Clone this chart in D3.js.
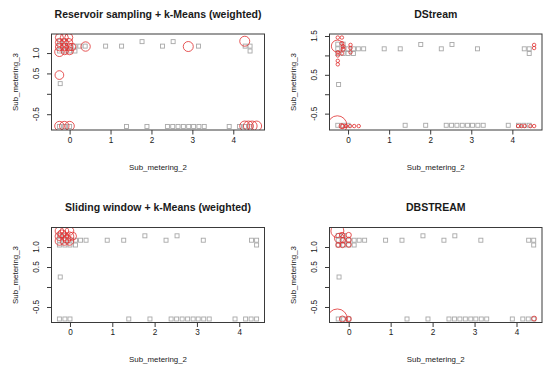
<!DOCTYPE html>
<html>
<head>
<meta charset="utf-8">
<script src="https://cdn.jsdelivr.net/npm/d3@7"></script>
<style>
  html, body { margin: 0; padding: 0; background: #fff; }
  svg { display: block; }
  text { font-family: "Liberation Sans", Arial, sans-serif; }
</style>
</head>
<body>
<div id="chart"></div>
<script>
// ---------------- data ----------------
const titles = ["Reservoir sampling + k-Means (weighted)", "DStream", "Sliding window + k-Means (weighted)", "DBSTREAM"];
const xLabel = "Sub_metering_2";
const yLabel = "Sub_metering_3";

const xTicks = [0, 1, 2, 3, 4];
const xTickLabels = ["0", "1", "2", "3", "4"];
const yTicksA = [-0.5, 0, 0.5, 1.0];
const yTickLabelsA = ["-0.5", "", "0.5", "1.0"];
const yTicksB = [-0.5, 0, 0.5, 1.0, 1.5];
const yTickLabelsB = ["-0.5", "", "0.5", "", "1.5"];

// data points (Sub_metering_2, Sub_metering_3), shown as grey squares in every panel
const pointsX = [-0.25, -0.12, -0.25, -0.12, 0.0, 0.13, 0.25, 0.38, -0.25, -0.12, 0.0, 0.13,
                 0.88, 1.27, 1.77, 2.27, 2.53, 3.15, 4.29, 4.41, 4.41,
                 -0.23,
                 -0.25, -0.12, 0.0, 1.39, 1.89, 2.39, 2.52, 2.65, 2.78, 2.91, 3.03, 3.16, 3.29, 3.90, 4.15, 4.28, 4.41];
const pointsY = [1.29, 1.29, 1.17, 1.17, 1.17, 1.17, 1.17, 1.17, 1.05, 1.05, 1.05, 1.05,
                 1.17, 1.17, 1.28, 1.17, 1.28, 1.17, 1.17, 1.17, 1.05,
                 0.25,
                 -0.80, -0.80, -0.80, -0.80, -0.80, -0.80, -0.80, -0.80, -0.80, -0.80, -0.80, -0.80, -0.80, -0.80, -0.80, -0.80, -0.80];

// cluster centres: [x, y, weight]
const reservoirCenters = [
  [-0.25, 1.38, 16], [-0.13, 1.38, 16], [-0.02, 1.38, 16],
  [-0.25, 1.26, 16], [-0.13, 1.26, 16], [-0.02, 1.26, 16],
  [-0.25, 1.15, 16], [-0.13, 1.15, 16], [-0.02, 1.15, 16], [0.06, 1.15, 14],
  [-0.25, 1.03, 22], [-0.12, 1.05, 14], [0.0, 1.05, 14],
  [-0.25, 0.46, 19],
  [0.39, 1.16, 22],
  [2.90, 1.16, 25],
  [4.28, 1.29, 25],
  [-0.25, -0.79, 22], [-0.13, -0.79, 22], [0.0, -0.79, 22],
  [4.28, -0.79, 25], [4.37, -0.79, 25], [4.46, -0.79, 25], [4.57, -0.79, 25]
];
const dstreamCenters = [
  [-0.25, 1.46, 3], [-0.15, 1.46, 3],
  [-0.26, 1.24, 36],
  [-0.15, 1.31, 4], [-0.12, 1.23, 4], [-0.12, 1.16, 4],
  [0.06, 1.27, 3], [0.06, 1.19, 3], [0.06, 1.08, 3],
  [-0.25, 1.08, 3], [-0.15, 1.05, 3], [-0.25, 1.00, 3],
  [-0.25, 0.86, 3], [-0.25, 0.77, 3],
  [-0.26, -0.80, 90],
  [-0.16, -0.82, 6], [-0.13, -0.83, 5], [-0.05, -0.82, 3], [0.05, -0.82, 3], [0.15, -0.82, 3], [0.26, -0.82, 3],
  [4.53, 1.27, 3], [4.53, 1.19, 3],
  [4.14, -0.82, 3], [4.22, -0.82, 3], [4.30, -0.82, 3], [4.44, -0.82, 3], [4.53, -0.82, 3]
];
const slidingCenters = [
  [-0.25, 1.40, 18], [-0.13, 1.40, 18], [-0.01, 1.40, 18],
  [-0.25, 1.27, 18], [-0.13, 1.27, 18], [-0.01, 1.27, 18], [0.06, 1.27, 16],
  [-0.25, 1.15, 18], [-0.13, 1.15, 18], [-0.01, 1.15, 18],
  [-0.19, 1.33, 16], [-0.07, 1.20, 16]
];
const dbstreamCenters = [
  [-0.27, 1.40, 42], [-0.22, 1.22, 25],
  [-0.16, 1.30, 7], [-0.14, 1.17, 7], [-0.15, 1.05, 7],
  [0.0, 1.30, 7], [0.0, 1.18, 7], [0.0, 1.06, 7],
  [-0.25, 1.05, 6],
  [-0.27, -0.80, 100],
  [-0.15, -0.80, 9], [0.0, -0.80, 7],
  [4.42, -0.79, 6]
];

// ---------------- layout / style ----------------
const W = 550, H = 375;
const panels = [
  { title: titles[0], centers: reservoirCenters, yTicks: yTicksA, yLabels: yTickLabelsA, box: { x0: 51.5, x1: 264.5, y0: 34, y1: 130 } },
  { title: titles[1], centers: dstreamCenters,   yTicks: yTicksB, yLabels: yTickLabelsB, box: { x0: 329.5, x1: 542, y0: 34, y1: 130 } },
  { title: titles[2], centers: slidingCenters,   yTicks: yTicksA, yLabels: yTickLabelsA, box: { x0: 51.5, x1: 264.5, y0: 227.5, y1: 322.5 } },
  { title: titles[3], centers: dbstreamCenters,  yTicks: yTicksA, yLabels: yTickLabelsA, box: { x0: 329.5, x1: 542, y0: 227.5, y1: 322.5 } }
];
const axisColor = "#3a3a3a";
const textColor = "#1a1a1a";
const pointColor = "#a8a8a8";
const centerColor = "#e03030";

const points = pointsX.map((x, i) => ({ x, y: pointsY[i] }));
const rScale = d3.scaleSqrt().domain([0, 100]).range([0, 10]);

function extendRange(vals) {
  const [a, b] = d3.extent(vals);
  const d = (b - a) * 0.04;
  return [a - d, b + d];
}

const svg = d3.select("#chart").append("svg").attr("width", W).attr("height", H);

panels.forEach((p, i) => {
  const b = p.box;
  const allX = points.map(d => d.x).concat(p.centers.map(c => c[0]));
  const allY = points.map(d => d.y).concat(p.centers.map(c => c[1]));
  const x = d3.scaleLinear().domain(extendRange(allX)).range([b.x0, b.x1]);
  const y = d3.scaleLinear().domain(extendRange(allY)).range([b.y1, b.y0]);

  const g = svg.append("g");
  const clipId = "clip" + i;
  svg.append("clipPath").attr("id", clipId)
    .append("rect").attr("x", b.x0).attr("y", b.y0).attr("width", b.x1 - b.x0).attr("height", b.y1 - b.y0);

  // grey data squares
  const s = 2;
  g.append("g").attr("clip-path", `url(#${clipId})`)
    .selectAll("rect").data(points).join("rect")
    .attr("x", d => x(d.x) - s).attr("y", d => y(d.y) - s)
    .attr("width", 2 * s).attr("height", 2 * s)
    .attr("fill", "none").attr("stroke", pointColor).attr("stroke-width", 0.9);

  // cluster centres
  g.append("g").attr("clip-path", `url(#${clipId})`)
    .selectAll("circle").data(p.centers).join("circle")
    .attr("cx", d => x(d[0])).attr("cy", d => y(d[1])).attr("r", d => rScale(d[2]))
    .attr("fill", "none").attr("stroke", centerColor).attr("stroke-width", 0.9).attr("stroke-opacity", 0.9);

  // box
  g.append("rect").attr("x", b.x0).attr("y", b.y0).attr("width", b.x1 - b.x0).attr("height", b.y1 - b.y0)
    .attr("fill", "none").attr("stroke", axisColor).attr("stroke-width", 1);

  // x axis
  const xa = g.append("g").attr("transform", `translate(0,${b.y1})`)
    .call(d3.axisBottom(x).tickValues(xTicks).tickFormat((d, k) => xTickLabels[k]).tickSize(4.5).tickPadding(2.5));
  xa.select(".domain").remove();
  xa.selectAll("line").attr("stroke", axisColor);
  xa.selectAll("text").attr("fill", textColor).attr("font-size", 8.2)
    .attr("font-family", "'Liberation Sans', Arial, sans-serif");

  // y axis (R-style rotated labels)
  const ya = g.append("g").attr("transform", `translate(${b.x0},0)`)
    .call(d3.axisLeft(y).tickValues(p.yTicks).tickFormat("").tickSize(4.5));
  ya.select(".domain").remove();
  ya.selectAll("line").attr("stroke", axisColor);
  g.append("g").selectAll("text").data(p.yTicks).join("text")
    .attr("transform", d => `translate(${b.x0 - 15.3},${y(d)}) rotate(-90)`)
    .attr("text-anchor", "middle").attr("dy", "0.35em")
    .attr("font-size", 8.2).attr("fill", textColor)
    .text((d, k) => p.yLabels[k]);

  // title
  g.append("text").attr("x", (b.x0 + b.x1) / 2).attr("y", b.y0 - 20).attr("dy", "0.35em")
    .attr("text-anchor", "middle").attr("font-weight", "bold").attr("font-size", 10.5)
    .attr("fill", textColor).text(p.title);

  // axis titles
  g.append("text").attr("x", (b.x0 + b.x1) / 2).attr("y", b.y1 + 37).attr("dy", "0.35em")
    .attr("text-anchor", "middle").attr("font-size", 7.9).attr("fill", textColor).text(xLabel);
  g.append("text").attr("transform", `translate(${b.x0 - 35.8},${(b.y0 + b.y1) / 2}) rotate(-90)`)
    .attr("dy", "0.35em").attr("text-anchor", "middle").attr("font-size", 7.9).attr("fill", textColor).text(yLabel);
});
</script>
</body>
</html>
